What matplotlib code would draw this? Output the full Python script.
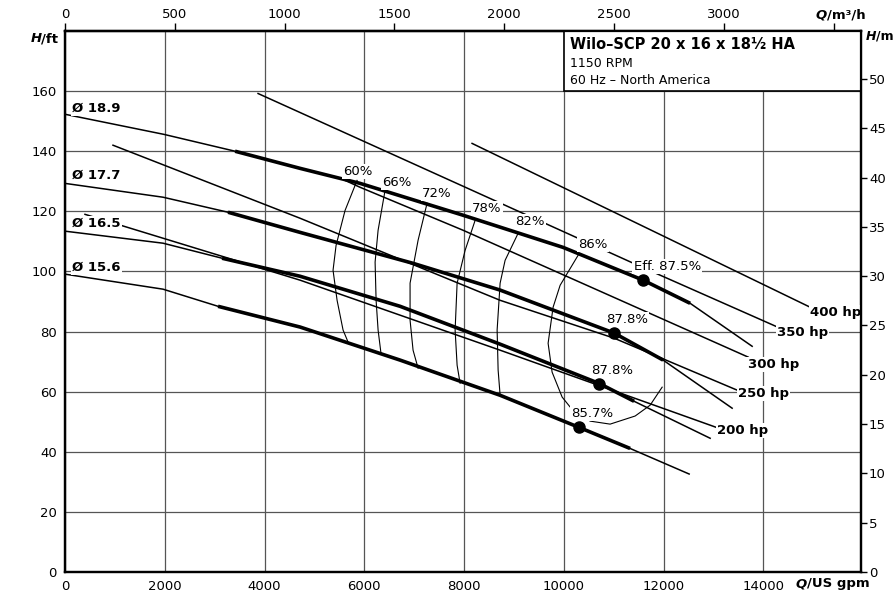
import numpy as np
import matplotlib
matplotlib.use("Agg")
import matplotlib.pyplot as plt
from matplotlib.patches import Rectangle

GPM_PER_M3H = 4.4029
FT_PER_M = 3.2808

# head curves per impeller diameter: Q in US gpm, H in ft
d189_q = [0, 1985, 3409, 4712, 5915, 7980, 9985, 11589, 12531, 13774]
d189_h = [152.3, 145.6, 140.0, 134.3, 129.3, 118.7, 108.0, 97.1, 89.4, 75.1]
d177_q = [0, 1965, 3268, 4712, 6977, 8722, 11007, 11990, 13373]
d177_h = [129.3, 124.7, 119.7, 113.0, 102.7, 93.8, 79.5, 70.5, 54.5]
d165_q = [0, 1965, 3148, 4712, 6717, 8722, 10713, 11408, 12932]
d165_h = [113.4, 109.4, 104.4, 98.4, 88.4, 75.8, 62.7, 56.8, 44.5]
d156_q = [0, 1965, 3068, 4712, 6717, 8722, 10306, 11328, 12511]
d156_h = [99.1, 94.1, 88.4, 81.5, 70.5, 58.8, 48.1, 41.1, 32.6]
diam_labels = ["Ø 18.9", "Ø 17.7", "Ø 16.5", "Ø 15.6"]
diam_label_h = [154.3, 132.0, 116.0, 101.4]
# operating window (first, last index of the bold part)
op_window = [(2, 8), (2, 7), (2, 7), (2, 7)]

# best efficiency points
bep_q = [11595, 11013, 10713, 10306]
bep_h = [97.1, 79.6, 62.7, 48.1]
bep_labels = ["Eff. 87.5%", "87.8%", "87.8%", "85.7%"]
bep_label_q = [12070, 11262, 10961, 10560]
bep_label_h = [101.7, 84.1, 67.2, 52.9]

# power lines
p400_q = [8160, 14937]
p400_h = [142.6, 88.1]
p350_q = [3870, 11529, 14296]
p350_h = [159.2, 101.7, 81.4]
p300_q = [5614, 5915, 7980, 13694]
p300_h = [130.3, 128.0, 113.7, 71.5]
p250_q = [962, 4712, 8722, 11007, 13474]
p250_h = [142.0, 117.7, 90.4, 77.8, 60.5]
p200_q = [401, 4712, 8722, 13093]
p200_h = [119.0, 97.1, 73.8, 47.9]
power_labels = ["400 hp", "350 hp", "300 hp", "250 hp", "200 hp"]
power_label_q = [15439, 14777, 14195, 13995, 13574]
power_label_h = [86.4, 79.8, 69.1, 59.5, 47.2]

# iso-efficiency curves
e60_q = [5855, 5614, 5434, 5373, 5454, 5574, 5674]
e60_h = [130.3, 120.3, 108.7, 100.4, 90.4, 80.5, 76.5]
e66_q = [6416, 6276, 6216, 6236, 6276, 6336]
e66_h = [127.0, 113.7, 103.1, 90.4, 80.5, 72.5]
e72_q = [7258, 7078, 6917, 6917, 6977, 7078]
e72_h = [122.7, 110.4, 96.1, 83.8, 73.8, 67.8]
e78_q = [8221, 8020, 7860, 7820, 7860, 7920]
e78_h = [117.0, 107.0, 96.1, 80.5, 68.8, 62.8]
e82_q = [9083, 8822, 8722, 8662, 8682, 8722]
e82_h = [112.7, 103.7, 96.1, 80.5, 67.2, 58.8]
e86_q = [10286, 9925, 9784, 9684, 9764, 9965, 10125, 10526, 10927, 11429, 11729, 11970]
e86_h = [105.4, 95.4, 88.1, 76.1, 66.5, 58.2, 54.9, 50.2, 49.2, 51.9, 55.5, 61.5]
eff_labels = ["60%", "66%", "72%", "78%", "82%", "86%"]
eff_label_q = [5875, 6657, 7459, 8461, 9323, 10586]
eff_label_h = [133.4, 129.7, 126.0, 121.0, 116.7, 109.0]

Q_MAX, H_MAX = 15950, 180

plt.rcParams["font.family"] = ["DejaVu Sans"]
plt.rcParams["font.size"] = 9.5

fig = plt.figure(figsize=(8.95, 5.96), dpi=100)
ax = fig.add_axes([65 / 895, 24 / 596, 795.7 / 895, 541 / 596])
ax.set_xlim(0, Q_MAX)
ax.set_ylim(0, H_MAX)
ax.set_xticks(np.arange(0, 14001, 2000))
ax.set_yticks(np.arange(0, 161, 20))
ax.grid(True, color="#555555", lw=0.9)
ax.set_axisbelow(True)
ax.tick_params(axis="both", length=0, pad=6, labelsize=9.5)
for s in ax.spines.values():
    s.set_linewidth(1.6)

# title box
ax.add_patch(Rectangle((10000, 160), Q_MAX - 10000, H_MAX - 160, facecolor="white",
                       edgecolor="black", lw=1.2, zorder=3))
ax.text(10120, 175.5, "Wilo–SCP 20 x 16 x 18½ HA", fontsize=10.5, fontweight="bold",
        va="center", ha="left", zorder=4)
ax.text(10120, 169.2, "1150 RPM", fontsize=9, va="center", ha="left", zorder=4)
ax.text(10120, 163.6, "60 Hz – North America", fontsize=9, va="center", ha="left", zorder=4)

# power lines
for q, h in [(p400_q, p400_h), (p350_q, p350_h), (p300_q, p300_h),
             (p250_q, p250_h), (p200_q, p200_h)]:
    ax.plot(q, h, color="black", lw=1.1, zorder=2)

# iso-efficiency curves
for q, h in [(e60_q, e60_h), (e66_q, e66_h), (e72_q, e72_h), (e78_q, e78_h),
             (e82_q, e82_h), (e86_q, e86_h)]:
    ax.plot(q, h, color="black", lw=0.8, zorder=2)

# head curves
curves = [(d189_q, d189_h), (d177_q, d177_h), (d165_q, d165_h), (d156_q, d156_h)]
for (q, h), (i0, i1) in zip(curves, op_window):
    ax.plot(q, h, color="black", lw=1.1, zorder=2)
    ax.plot(q[i0:i1 + 1], h[i0:i1 + 1], color="black", lw=2.6, zorder=2,
            solid_capstyle="butt")
ax.plot(bep_q, bep_h, "o", color="black", ms=8, zorder=3)

box = dict(facecolor="white", edgecolor="none", pad=0.8)
for t, y in zip(diam_labels, diam_label_h):
    ax.text(140, y, t, fontweight="bold", ha="left", va="center", bbox=box, zorder=4)
for t, q, h in zip(eff_labels, eff_label_q, eff_label_h):
    ax.text(q, h, t, ha="center", va="center", bbox=box, zorder=4)
for t, q, h in zip(bep_labels, bep_label_q, bep_label_h):
    ax.text(q, h, t, ha="center", va="center", bbox=box, zorder=4)
for t, q, h in zip(power_labels, power_label_q, power_label_h):
    ax.text(q, h, t, fontweight="bold", ha="center", va="center", bbox=box, zorder=4)

# right axis in metres
ax2 = ax.twinx()
ax2.set_ylim(0, H_MAX / FT_PER_M)
ax2.set_yticks(np.arange(0, 51, 5))
ax2.tick_params(axis="y", length=4, width=1, pad=2, labelsize=9.5)
for s in ax2.spines.values():
    s.set_linewidth(1.6)

# top axis in m3/h
ax3 = ax.secondary_xaxis("top", functions=(lambda q: q / GPM_PER_M3H,
                                           lambda m: m * GPM_PER_M3H))
top_ticks = np.arange(0, 3501, 500)
ax3.set_xticks(top_ticks)
ax3.set_xticklabels([str(t) for t in top_ticks[:-1]] + [""])
ax3.tick_params(axis="x", length=6, width=1, pad=1, labelsize=9.5)
ax3.spines["top"].set_linewidth(1.6)

# axis titles
fig.text(41.5 / 895, 1 - 39 / 596, "H", fontweight="bold", style="italic", ha="right", va="center")
fig.text(41.5 / 895, 1 - 39 / 596, "/ft", fontweight="bold", ha="left", va="center")
fig.text(876 / 895, 1 - 36 / 596, "H", fontsize=9, fontweight="bold", style="italic",
         ha="right", va="center")
fig.text(876 / 895, 1 - 36 / 596, "/m", fontsize=9, fontweight="bold", ha="left", va="center")
fig.text(827 / 895, 1 - 15 / 596, "Q", fontweight="bold", style="italic", ha="right", va="center")
fig.text(827 / 895, 1 - 15 / 596, "/m³/h", fontweight="bold", ha="left", va="center")
fig.text(807 / 895, 1 - 584 / 596, "Q", fontweight="bold", style="italic", ha="right", va="center")
fig.text(807 / 895, 1 - 584 / 596, "/US gpm", fontweight="bold", ha="left", va="center")

fig.savefig("out.png", dpi=100)
